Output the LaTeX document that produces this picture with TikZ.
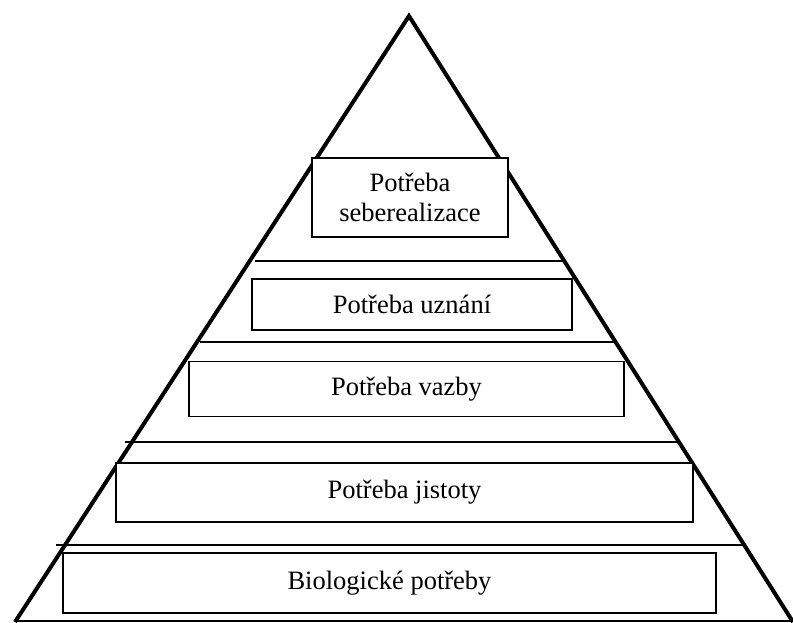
\documentclass[tikz,border=0pt]{standalone}
\usepackage{fontspec}
\setmainfont{Liberation Serif}
\begin{document}
\begin{tikzpicture}[x=1pt,y=-1pt,
  level/.style={draw=black,line width=1.3pt,fill=white,inner sep=0pt,align=center,
    font=\fontsize{26.5}{29.5}\selectfont},
  sep/.style={line width=1.5pt},
  side/.style={line width=4pt,line join=miter}]
\useasboundingbox (0,0) rectangle (793,623);
% triangle
\coordinate (apex) at (409,16);
\coordinate (bl) at (15,622);
\coordinate (br) at (793,622);
\draw[side] (bl) -- (apex) -- (br);
\draw[sep] (15,621) -- (793,621);
% separators
\draw[sep] (255,261) -- (563,261);
\draw[sep] (200,342) -- (615,342);
\draw[sep] (125,442) -- (680,442);
\draw[sep] (56,545) -- (745,545);
% levels
\node[level,minimum width=196pt,minimum height=79pt] (self) at (410,197.5) {Potřeba\\seberealizace};
\node[level,minimum width=320pt,minimum height=51pt] (esteem) at (412,304.5) {Potřeba uznání};
\node[level,minimum width=435pt,minimum height=54.5pt] (love) at (406.5,389) {Potřeba vazby};
\node[level,minimum width=577pt,minimum height=59pt] (safety) at (404.5,492.5) {Potřeba jistoty};
\node[level,minimum width=653pt,minimum height=60pt] (bio) at (389.5,583) {Biologické potřeby};
\end{tikzpicture}
\end{document}
